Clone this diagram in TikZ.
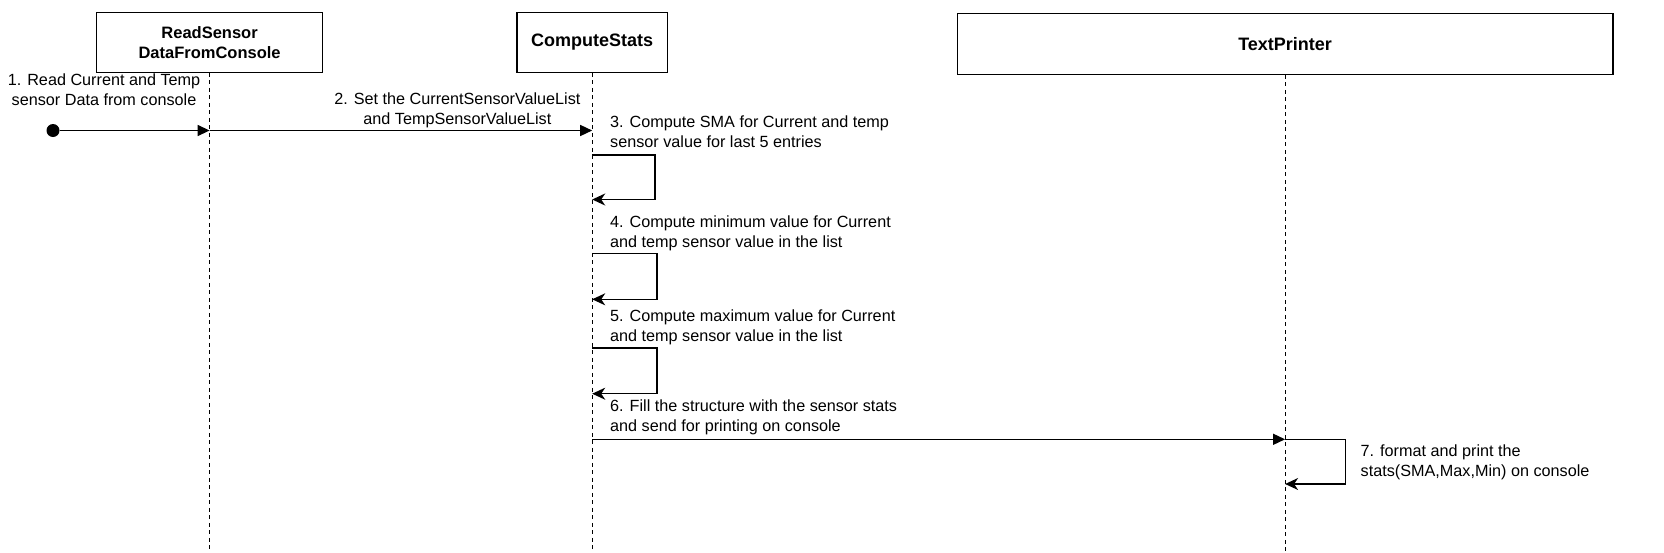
\documentclass[tikz,border=0pt]{standalone}
\usepackage{fontspec}
\setmainfont{Liberation Sans}
\usetikzlibrary{arrows.meta}
\begin{document}
\begin{tikzpicture}[x=1pt,y=-1pt,
  actor/.style={draw,line width=1.4pt,fill=white,font=\fontsize{18}{20}\selectfont\bfseries,align=center,inner sep=0pt},
  lifeline/.style={line width=1.1pt,dash pattern=on 4pt off 3.5pt},
  msg/.style={line width=1.4pt,-{Triangle[length=12pt,width=11pt]}},
  ret/.style={line width=1.4pt,-{Stealth[length=13pt,width=12pt,inset=4pt]}},
  lbl/.style={font=\fontsize{16.2}{20}\selectfont,inner sep=0pt},
  llbl/.style={lbl,align=left,anchor=west},
  clbl/.style={lbl,align=center}]
\useasboundingbox (0,0) rectangle (1664,552);
\fill[white] (0,0) rectangle (1664,552);
% lifelines
\coordinate (rsE) at (209.6,552);
\coordinate (csE) at (592.2,552);
\coordinate (tpE) at (1285.1,552);
\node[actor,font=\fontsize{16.5}{20}\selectfont\bfseries,minimum width=226pt,minimum height=59.5pt] (rs) at (209.6,42.5) {ReadSensor\\DataFromConsole};
\node[actor,minimum width=150.7pt,minimum height=59.5pt] (cs) at (592.2,42.5) {ComputeStats};
\node[actor,minimum width=655.8pt,minimum height=60.5pt] (tp) at (1285.1,44) {TextPrinter};
\draw[lifeline] (rs.south) -- (rsE);
\draw[lifeline] (cs.south) -- (csE);
\draw[lifeline] (tp.south) -- (tpE);
% message anchors
\coordinate (rs1) at (209.6,130.5);
\coordinate (cs2) at (592.2,130.5);
\coordinate (cs3a) at (592.2,155);
\coordinate (cs3b) at (592.2,199.5);
\coordinate (cs4a) at (592.2,253.6);
\coordinate (cs4b) at (592.2,299.3);
\coordinate (cs5a) at (592.2,348);
\coordinate (cs5b) at (592.2,393.7);
\coordinate (cs6) at (592.2,439.3);
\coordinate (tp6) at (1285.1,439.3);
\coordinate (tp7b) at (1285.1,484);
\node[circle,fill=black,inner sep=0pt,minimum size=13pt] (start) at (53,130.5) {};
% messages
\draw[msg] (start) -- (rs1);
\draw[msg] (rs1) -- (cs2);
\draw[ret] (cs3a) -- ++(62.6,0) |- (cs3b);
\draw[ret] (cs4a) -- ++(64.7,0) |- (cs4b);
\draw[ret] (cs5a) -- ++(64.7,0) |- (cs5b);
\draw[msg] (cs6) -- (tp6);
\draw[ret] (tp6) -- ++(60.5,0) |- (tp7b);
% labels
\node[clbl] (l1) at (104,90) {1. Read Current and Temp\\sensor Data from console};
\node[clbl] (l2) at (457.4,110.4) {2. Set the CurrentSensorValueList\\and TempSensorValueList};
\node[llbl] (l3) at (610,132) {3. Compute SMA for Current and temp\\sensor value for last 5 entries};
\node[llbl] (l4) at (610,233) {4. Compute minimum value for Current\\and temp sensor value in the list};
\node[llbl] (l5) at (610,327.4) {5. Compute maximum value for Current\\and temp sensor value in the list};
\node[llbl] (l6) at (610,417.6) {6. Fill the structure with the sensor stats\\and send for printing on console};
\node[llbl] (l7) at (1360.5,462) {7. format and print the\\stats(SMA,Max,Min) on console};
\end{tikzpicture}
\end{document}
